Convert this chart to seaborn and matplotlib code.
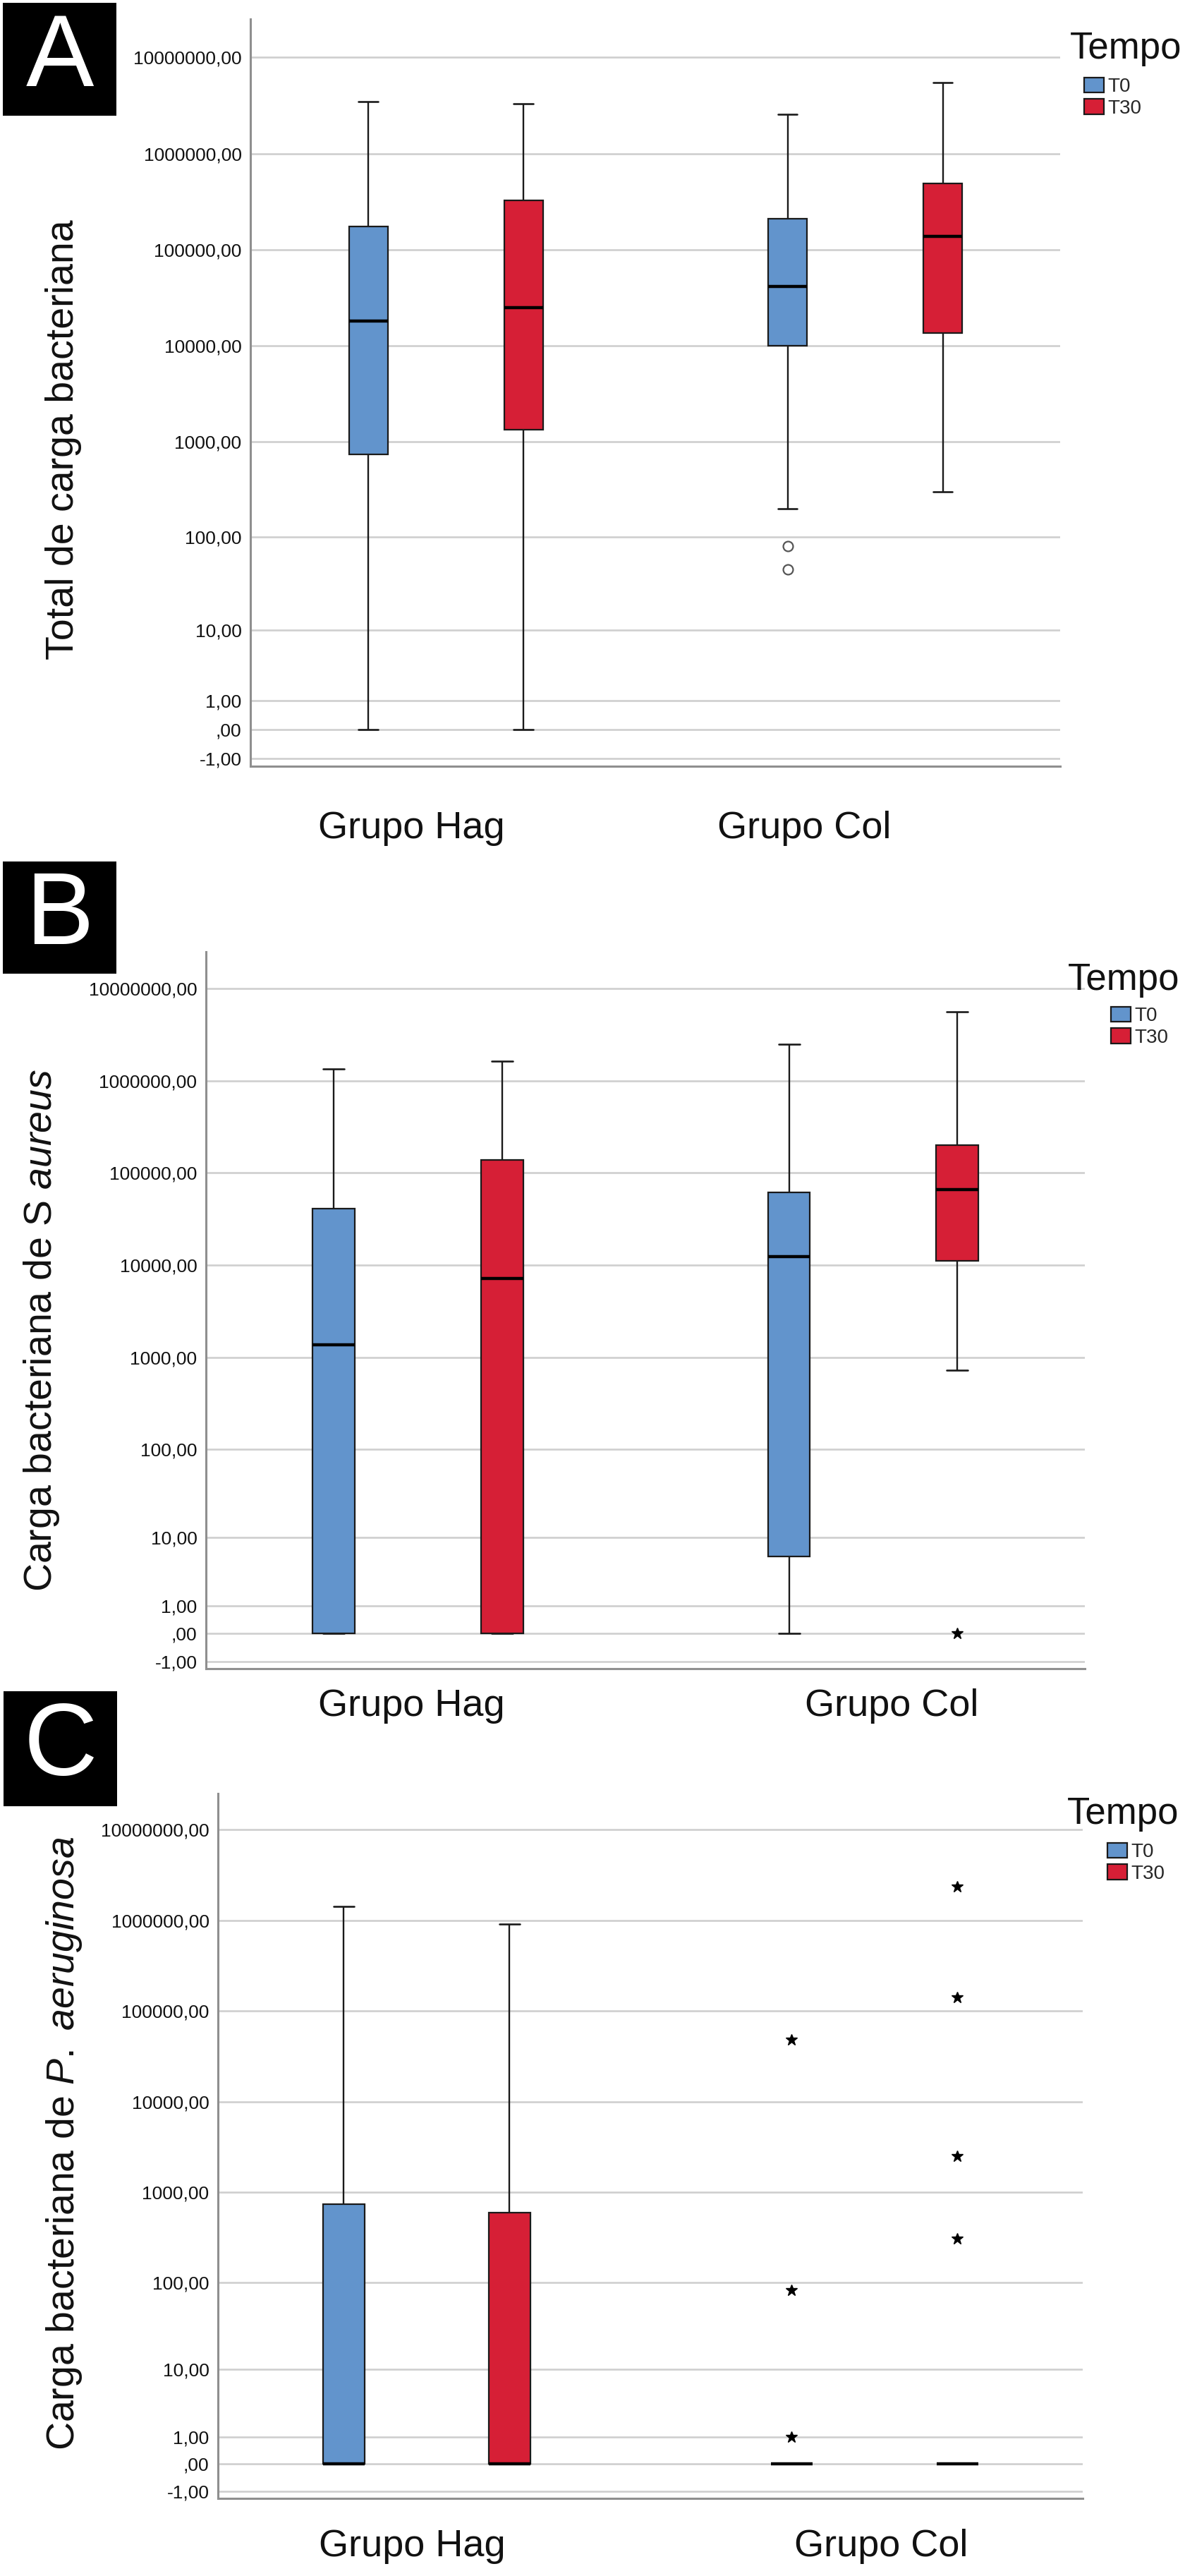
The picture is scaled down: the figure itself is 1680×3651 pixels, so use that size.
import numpy as np
import pandas as pd
import seaborn as sns
import matplotlib.pyplot as plt
from matplotlib.patches import Rectangle
from matplotlib.transforms import ScaledTranslation

sns.set_style("white")
plt.rcParams["font.family"] = ["Liberation Sans", "DejaVu Sans"]
plt.rcParams["mathtext.fontset"] = "custom"
plt.rcParams["mathtext.rm"] = "Liberation Sans"
plt.rcParams["mathtext.it"] = "Liberation Sans:italic"

groups = ["Grupo Hag", "Grupo Col"]
times = ["T0", "T30"]
palette = {"T0": "#6294cc", "T30": "#d61f36"}

# box summaries, order: Hag T0, Hag T30, Col T0, Col T30
total_low = [0, 0, 200, 300]
total_q1 = [740, 1320, 10000, 13600]
total_med = [17900, 25000, 41000, 137000]
total_q3 = [174000, 323000, 209000, 490000]
total_high = [3500000, 3300000, 2540000, 5500000]
total_out = [[], [], [46, 81], []]

saur_low = [0, 0, 0, 725]
saur_q1 = [0, 0, 5.9, 11200]
saur_med = [1370, 7180, 12300, 66000]
saur_q3 = [41300, 139000, 61500, 200000]
saur_high = [1350000, 1620000, 2500000, 5600000]
saur_out = [[], [], [], [0]]

paer_low = [0, 0, 0, 0]
paer_q1 = [0, 0, 0, 0]
paer_med = [0, 0, 0, 0]
paer_q3 = [735, 595, 0, 0]
paer_high = [1430000, 915000, 0, 0]
paer_out = [[], [], [1, 82, 48000], [306, 2500, 141000, 2340000]]

ytick_values = [-1, 0, 1, 10, 100, 1000, 10000, 100000, 1000000, 10000000]
ytick_labels = ["-1,00", ",00", "1,00", "10,00", "100,00", "1000,00",
                "10000,00", "100000,00", "1000000,00", "10000000,00"]


# SPSS style "safe log" axis: sign(x) * log10(1 + |x|)
def safe_log(v):
    v = np.asarray(v, dtype=float)
    return np.sign(v) * np.log10(1 + np.abs(v))


def safe_log_inv(v):
    v = np.asarray(v, dtype=float)
    return np.sign(v) * (10 ** np.abs(v) - 1)


def box_sample(low, q1, med, q3, high, out, n=20):
    # values whose quartiles / whiskers reproduce the drawn box
    return list(out) + [low] + [q1] * n + [med] * n + [q3] * n + [high]


def make_frame(low, q1, med, q3, high, out):
    rows = []
    keys = [(g, t) for g in groups for t in times]
    for i, (g, t) in enumerate(keys):
        for v in box_sample(low[i], q1[i], med[i], q3[i], high[i], out[i]):
            rows.append((g, t, v))
    return pd.DataFrame(rows, columns=["grupo", "tempo", "carga"])


W, H = 1680, 3651
fig = plt.figure(figsize=(W / 100, H / 100), dpi=100)

circle = dict(marker="o", markerfacecolor="white", markeredgecolor="#555555",
              markeredgewidth=1.6, markersize=10)
star = dict(marker="*", markerfacecolor="black", markeredgecolor="black",
            markersize=12)

panels = [
    dict(df=make_frame(total_low, total_q1, total_med, total_q3, total_high, total_out),
         ylabel="Total de carga bacteriana", rect=(355, 27, 1503, 1086),
         label_xy=(-0.208, 0.437), xpad=45, xshift=(-49, -86), fliers=circle,
         legend_at=(1537, 110), tempo_at=(1517, 44), letter="A", box=(4, 4, 161, 160)),
    dict(df=make_frame(saur_low, saur_q1, saur_med, saur_q3, saur_high, saur_out),
         ylabel="Carga bacteriana de S $\\mathit{aureus}$", rect=(292, 1349, 1538, 2365),
         label_xy=(-0.1645, 0.472), xpad=20, xshift=(-9, 26), fliers=star,
         legend_at=(1575, 1427), tempo_at=(1514, 1364), letter="B", box=(4, 1221, 161, 159)),
    dict(df=make_frame(paer_low, paer_q1, paer_med, paer_q3, paer_high, paer_out),
         ylabel="Carga bacteriana de $\\mathit{P.\\ aeruginosa}$", rect=(309, 2542, 1535, 3541),
         label_xy=(-0.155, 0.504), xpad=31, xshift=(-21, 9), fliers=star,
         legend_at=(1570, 2612), tempo_at=(1513, 2546), letter="C", box=(5, 2397, 161, 163)),
]

for p in panels:
    x0, y0, x1, y1 = p["rect"]
    ax = fig.add_axes([x0 / W, 1 - y1 / H, (x1 - x0) / W, (y1 - y0) / H])
    ax.set_yscale("function", functions=(safe_log, safe_log_inv))

    sns.boxplot(data=p["df"], x="grupo", y="carga", hue="tempo",
                order=groups, hue_order=times, palette=palette, saturation=1,
                width=0.74, gap=0.75, whis=1.5, linecolor="#1a1a1a", linewidth=1.6,
                medianprops=dict(color="black", linewidth=3.2),
                whiskerprops=dict(color="#1a1a1a", linewidth=1.7),
                capprops=dict(color="#1a1a1a", linewidth=1.9),
                flierprops=p["fliers"], ax=ax)

    ax.set_ylim(safe_log_inv(-0.38), safe_log_inv(7.40))
    ax.set_xlim(-0.466, 1.465)
    ax.set_yticks(ytick_values)
    ax.set_yticklabels(ytick_labels)
    ax.yaxis.set_minor_locator(plt.NullLocator())
    ax.tick_params(axis="y", length=0, pad=9, labelsize=19, labelcolor="#111111")
    ax.tick_params(axis="x", length=0, pad=p["xpad"], labelsize=39, labelcolor="#111111")
    ax.set_xlabel("")
    ax.set_ylabel(p["ylabel"], fontsize=40, color="#111111")
    ax.yaxis.set_label_coords(*p["label_xy"])

    # group labels sit slightly off the category centres in the original
    for lab, dx in zip(ax.get_xticklabels(), p["xshift"]):
        lab.set_transform(lab.get_transform() + ScaledTranslation(dx / 100, 0, fig.dpi_scale_trans))

    ax.grid(axis="y", color="#cfcfcf", linewidth=1.9)
    ax.grid(axis="x", visible=False)
    ax.set_axisbelow(True)
    for side in ["top", "right"]:
        ax.spines[side].set_visible(False)
    for side in ["left", "bottom"]:
        ax.spines[side].set_color("#8f8f8f")
        ax.spines[side].set_linewidth(2.2)

    # legend entries + separate "Tempo" heading
    old = ax.get_legend()
    handles = old.legend_handles
    labels = [t.get_text() for t in old.get_texts()]
    old.remove()
    lx, ly = p["legend_at"]
    ax.legend(handles, labels, loc="upper left", bbox_to_anchor=(lx / W, 1 - ly / H),
              bbox_transform=fig.transFigure, frameon=False, fontsize=20,
              handlelength=1.0, handleheight=0.8, handletextpad=0.2,
              labelspacing=0.15, borderpad=0, borderaxespad=0)
    tx, ty = p["tempo_at"]
    fig.text(tx / W, 1 - ty / H, "Tempo", fontsize=38, ha="left", va="top", color="#111111")

    # black panel letter
    bx, by, bw, bh = p["box"]
    fig.patches.append(Rectangle((bx / W, 1 - (by + bh) / H), bw / W, bh / H,
                                 transform=fig.transFigure, facecolor="black",
                                 edgecolor="none"))
    fig.text((bx + bw / 2) / W, 1 - (by + bh / 2) / H, p["letter"], color="white",
             fontsize=104, ha="center", va="center")

fig.savefig("out.png", dpi=100)
